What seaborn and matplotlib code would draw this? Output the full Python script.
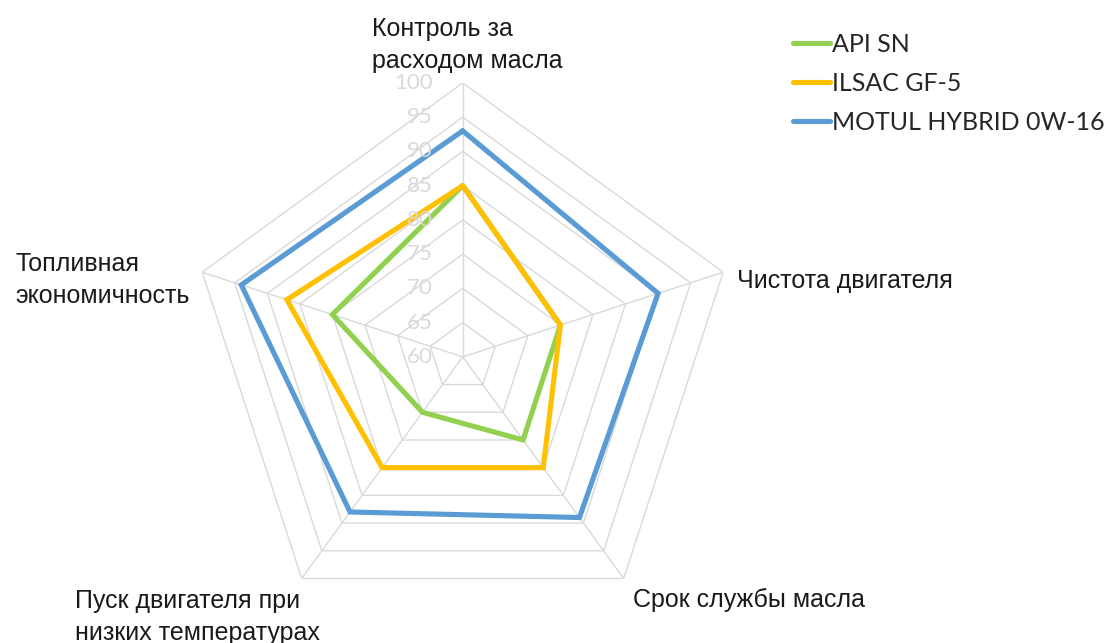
import numpy as np
import pandas as pd
import seaborn as sns
import matplotlib.pyplot as plt
from matplotlib.lines import Line2D

categories = [
    "Контроль за\nрасходом масла",
    "Чистота двигателя",
    "Срок службы масла",
    "Пуск двигателя при\nнизких температурах",
    "Топливная\nэкономичность",
]
series = ["API SN", "ILSAC GF-5", "MOTUL HYBRID 0W-16"]
api_sn = [85, 75, 75, 70, 80]
ilsac_gf5 = [85, 75, 80, 80, 87]
motul = [93, 90, 89, 88, 94]
ticks = [60, 65, 70, 75, 80, 85, 90, 95, 100]
colors = ["#92D050", "#FFC000", "#5B9BD5"]

W, H = 1110, 643


def px(x, y):
    return x / W, 1 - y / H


angles = np.linspace(0, 2 * np.pi, len(categories), endpoint=False)
closed = np.append(angles, 2 * np.pi)

rows = []
for name, vals in zip(series, [api_sn, ilsac_gf5, motul]):
    for i, a in enumerate(closed):
        rows.append({"angle": a, "value": vals[i % len(vals)], "series": name})
df = pd.DataFrame(rows)

sns.set_style("white")
plt.rcParams["font.family"] = ["Liberation Sans", "DejaVu Sans"]

fig = plt.figure(figsize=(W / 100, H / 100), dpi=100)
ax = fig.add_axes([0.170, 0.019, 0.4937, 0.852], projection="polar")
ax.set_theta_offset(np.pi / 2)
ax.set_theta_direction(-1)
ax.grid(False)
ax.spines["polar"].set_visible(False)

# polygon grid like Excel
grid_c = "#D9D9D9"
for t in ticks[1:]:
    ax.plot(closed, [t] * len(closed), color=grid_c, lw=1.0, zorder=1)
for a in angles:
    ax.plot([a, a], [ticks[0], ticks[-1]], color=grid_c, lw=1.0, zorder=1)

sns.lineplot(
    data=df, x="angle", y="value", hue="series", palette=colors,
    sort=False, estimator=None, linewidth=3.7, legend=False, ax=ax,
    solid_joinstyle="miter", zorder=3,
)
ax.set_ylim(ticks[0], ticks[-1])
ax.set_xticks([])
ax.set_yticks([])
ax.set_xlabel("")
ax.set_ylabel("")

for t in ticks:
    ax.annotate(str(t), xy=(0, t), xytext=(-21.6, 0), textcoords="offset points",
                ha="right", va="center", color=grid_c, fontsize=16, family="Lato")

# category labels (x, baseline of last line in pixels)
label_pos = [(372, 68), (737, 288), (633, 607), (75, 640), (15, 303)]
for text, (x, y) in zip(categories, label_pos):
    fig.text(*px(x, y), text, ha="left", va="baseline", fontsize=18,
             color="#1a1a1a", linespacing=1.4)

handles = [Line2D([], [], color=c, lw=3.7) for c in colors]
fig.legend(handles, series, loc="upper left", bbox_to_anchor=px(793, 33),
           frameon=False, handlelength=1.48, handletextpad=0.1,
           labelspacing=0.63, borderpad=0, borderaxespad=0,
           prop={"family": "Lato", "size": 18})

fig.savefig("out.png", dpi=100)
plt.close(fig)
